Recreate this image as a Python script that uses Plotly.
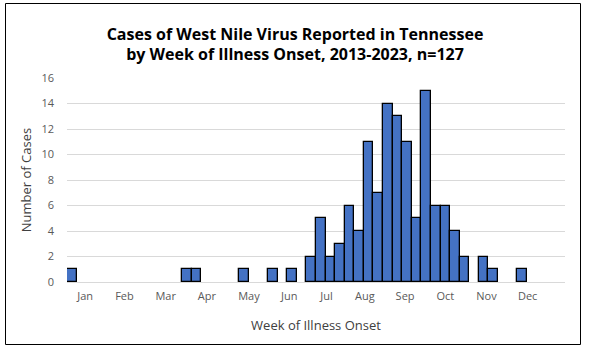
import plotly.graph_objects as go

weeks = list(range(1, 53))
cases = [1, 0, 0, 0, 0, 0, 0, 0, 0, 0, 0, 0,
         1, 1, 0, 0, 0, 0, 1, 0, 0, 1, 0, 1,
         0, 2, 5, 2, 3, 6, 4, 11, 7, 14, 13, 11,
         5, 15, 6, 6, 4, 2, 0, 2, 1, 0, 0, 1,
         0, 0, 0, 0]
month_labels = ["Jan", "Feb", "Mar", "Apr", "May", "Jun", "Jul", "Aug", "Sep", "Oct", "Nov", "Dec"]
month_pos = [1.9, 6.0, 10.3, 14.6, 19.0, 23.2, 27.1, 31.1, 35.3, 39.5, 43.8, 48.1]

x_centers = [w - 0.5 for w in weeks]
y_vals = [c if c > 0 else None for c in cases]

fig = go.Figure()
fig.add_trace(go.Bar(
    x=x_centers, y=y_vals, width=1.0,
    marker=dict(color="#4472C4", line=dict(color="black", width=1.3)),
    hoverinfo="x+y",
))

fig.update_layout(
    width=590, height=351,
    margin=dict(l=67, r=25, t=78, b=69),
    paper_bgcolor="white", plot_bgcolor="white",
    showlegend=False, bargap=0,
    font=dict(family="Open Sans", color="#595959", size=11),
    title=dict(
        text="<b>Cases of West Nile Virus Reported in Tennessee<br>by Week of Illness Onset, 2013-2023, n=127</b>",
        x=0.5, xanchor="center", y=0.887, yanchor="middle",
        font=dict(family="Open Sans", size=16, color="black"),
    ),
    xaxis=dict(
        range=[0, 52], tickmode="array", tickvals=month_pos, ticktext=month_labels,
        showgrid=False, zeroline=False, showline=False, ticks="",
        ticklabelstandoff=6,
        tickfont=dict(size=11, color="#595959"),
        title=dict(text="Week of Illness Onset", font=dict(size=13, color="#404040"), standoff=18),
    ),
    yaxis=dict(
        range=[0, 16], dtick=2, showgrid=True, gridcolor="#d9d9d9", gridwidth=1,
        zeroline=True, zerolinecolor="#d9d9d9", zerolinewidth=1, showline=False, ticks="",
        ticklabelstandoff=12,
        tickfont=dict(size=11, color="#595959"),
        title=dict(text="Number of Cases", font=dict(size=13, color="#404040"), standoff=6),
    ),
    shapes=[dict(
        type="rect", xref="paper", yref="paper",
        x0=(5.5 - 67) / 498, x1=(580.5 - 67) / 498,
        y0=(282 - 344.5) / 204, y1=(282 - 3.5) / 204,
        line=dict(color="black", width=1), fillcolor="rgba(0,0,0,0)", layer="below",
    )],
)

fig.write_html("out.html")
